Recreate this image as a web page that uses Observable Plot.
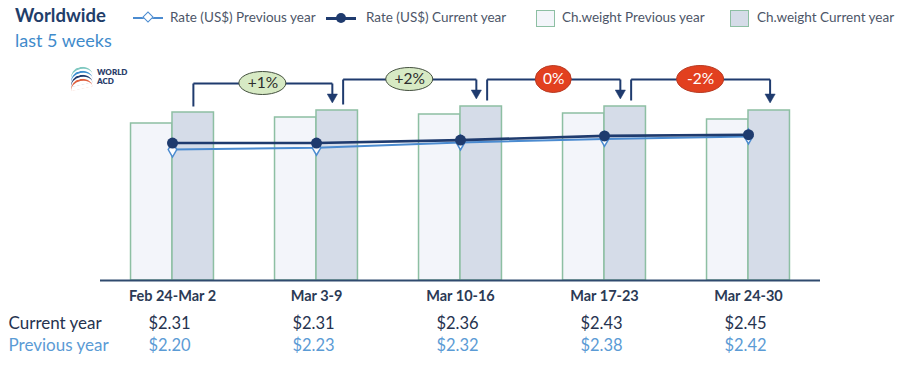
<!DOCTYPE html>
<html>
<head>
<meta charset="utf-8">
<script src="https://cdn.jsdelivr.net/npm/d3@7"></script>
<script src="https://cdn.jsdelivr.net/npm/@observablehq/plot@0.6"></script>
<style>
  html, body { margin: 0; padding: 0; background: #fff; }
  body { width: 900px; height: 368px; overflow: hidden; font-family: Lato, "Open Sans", sans-serif; }
  #header { position: relative; height: 56px; }
  .abs { position: absolute; white-space: nowrap; }
  #title { left: 15px; top: 4px; font-size: 18.5px; font-weight: 700; color: #1f3e6a; }
  #subtitle { left: 15px; top: 29px; font-size: 18px; color: #3f8bcb; }
  .leg { top: 9px; font-size: 13.5px; color: #4d5668; }
  .lineSym { top: 17px; width: 30px; height: 2px; }
  .diam { position: absolute; left: 11px; top: -4px; width: 6px; height: 6px; background: #fff; border: 1.6px solid #4b8bd0; transform: rotate(45deg); }
  .circ { position: absolute; left: 10px; top: -4px; width: 10px; height: 10px; border-radius: 50%; background: #1f3b6e; }
  .box { top: 10px; width: 17px; height: 15px; border: 1.5px solid #8dbfa3; }
  #chart { position: relative; }
  #logo { left: 70px; top: 65px; width: 70px; height: 30px; }
  .stripe { position: absolute; left: 0; width: 22px; height: 8px; border-top: 2.2px solid; border-radius: 50% 50% 0 0 / 100% 100% 0 0; transform: rotate(-12deg); }
  .lt { position: absolute; left: 27px; font-size: 8px; font-weight: 800; color: #2a3d6a; line-height: 8px; }
</style>
</head>
<body>
<div id="header">
  <div class="abs" id="title">Worldwide</div>
  <div class="abs" id="subtitle">last 5 weeks</div>

  <div class="abs lineSym" style="left:133px;background:#4b8bd0;"><div class="diam"></div></div>
  <div class="abs leg" style="left:170px;">Rate (US$) Previous year</div>

  <div class="abs lineSym" style="left:326px;background:#1f3b6e;height:2.5px;"><div class="circ"></div></div>
  <div class="abs leg" style="left:366px;">Rate (US$) Current year</div>

  <div class="abs box" style="left:536px;background:#f3f5fa;"></div>
  <div class="abs leg" style="left:562px;">Ch.weight Previous year</div>

  <div class="abs box" style="left:730px;background:#d5dce8;"></div>
  <div class="abs leg" style="left:757px;">Ch.weight Current year</div>

  <div class="abs" id="logo">
    <div class="stripe" style="top:2px;border-color:#7fc8c0;"></div>
    <div class="stripe" style="top:6px;border-color:#3d8fd0;"></div>
    <div class="stripe" style="top:10px;border-color:#1f3b6e;"></div>
    <div class="stripe" style="top:14px;border-color:#e0603f;"></div>
    <div class="lt" style="top:3px;">WORLD</div>
    <div class="lt" style="top:12px;">ACD</div>
  </div>
</div>
<div id="chart"></div>
<script>
// ---- data ----
const weeks = ["Feb 24-Mar 2", "Mar 3-9", "Mar 10-16", "Mar 17-23", "Mar 24-30"];
const rateCurrent = [2.31, 2.31, 2.36, 2.43, 2.45];
const ratePrevious = [2.20, 2.23, 2.32, 2.38, 2.42];
const weightCurrent = [168, 170, 174, 174, 170];   // chargeable weight (index)
const weightPrevious = [157, 163, 166, 167, 161];
const changeLabels = ["+1%", "+2%", "0%", "-2%"];

// ---- derived table ----
const RATE_K = 59.5; // secondary-axis factor: rate (US$) -> weight units
const fmt = v => "$" + v.toFixed(2);
const data = weeks.map((week, i) => ({
  i, week,
  rc: rateCurrent[i], rp: ratePrevious[i],
  wc: weightCurrent[i], wp: weightPrevious[i]
}));

const BAR = 0.288;
const last = changeLabels.length - 1;
const brackets = changeLabels.map((label, i) => {
  const x0 = i + (i === 0 ? 0.145 : 0.185);
  const x1 = i + 1 + (i === last ? 0.15 : 0.11);
  const level = Math.max(weightCurrent[i], weightCurrent[i + 1]) + 27;
  const up = label.startsWith("+");
  const hw = (label.length * 11 + 14) / 2 / 144;
  return {label, x0, x1, mid: (x0 + x1) / 2, hw, level, up,
          start: weightCurrent[i] + 6, tip: weightCurrent[i + 1] + 8};
});

const navy = "#1f3b6e";
const downTriangle = {
  draw(ctx, size) {
    const y = Math.sqrt(size / (3 * Math.sqrt(3)));
    ctx.moveTo(0, 2 * y);
    ctx.lineTo(-Math.sqrt(3) * y, -y);
    ctx.lineTo(Math.sqrt(3) * y, -y);
    ctx.closePath();
  }
};

const chart = Plot.plot({
  width: 900,
  height: 312,
  marginLeft: 100,
  marginRight: 80,
  marginTop: 24,
  marginBottom: 88,
  x: {type: "linear", domain: [-0.5, 4.5], axis: null},
  y: {domain: [0, 200], axis: null},
  style: {fontFamily: "Lato, 'Open Sans', sans-serif", background: "transparent", overflow: "visible"},
  marks: [
    // chargeable weight bars
    Plot.rectY(data, {x1: d => d.i - BAR, x2: d => d.i, y: "wp", fill: "#f3f5fa", stroke: "#8dbfa3", strokeWidth: 1.5}),
    Plot.rectY(data, {x1: d => d.i, x2: d => d.i + BAR, y: "wc", fill: "#d5dce8", stroke: "#8dbfa3", strokeWidth: 1.5}),
    // baseline
    Plot.ruleY([0], {stroke: "#2f4a6e", strokeWidth: 2}),
    // rates
    Plot.line(data, {x: "i", y: d => d.rp * RATE_K, stroke: "#4b8bd0", strokeWidth: 2}),
    Plot.dot(data, {x: "i", y: d => d.rp * RATE_K, symbol: "diamond", r: 4.5, fill: "#fff", stroke: "#4b8bd0", strokeWidth: 1.5}),
    Plot.line(data, {x: "i", y: d => d.rc * RATE_K, stroke: navy, strokeWidth: 2.6}),
    Plot.dot(data, {x: "i", y: d => d.rc * RATE_K, r: 5.5, fill: navy}),
    // change brackets
    Plot.link(brackets, {x1: "x0", x2: "x0", y1: "start", y2: "level", stroke: navy, strokeWidth: 2}),
    Plot.link(brackets, {x1: "x0", x2: "x1", y1: "level", y2: "level", stroke: navy, strokeWidth: 2}),
    Plot.link(brackets, {x1: "x1", x2: "x1", y1: "level", y2: d => d.tip + 5, stroke: navy, strokeWidth: 2}),
    Plot.dot(brackets, {x: "x1", y: d => d.tip + 5.5, symbol: downTriangle, r: 3.8, fill: navy, stroke: navy, strokeWidth: 0.5}),
    Plot.rect(brackets, {x1: d => d.mid - d.hw, x2: d => d.mid + d.hw, y1: d => d.level - (d.up ? 11.5 : 13.5), y2: d => d.level + (d.up ? 11.5 : 13.5),
      rx: 100, ry: 100, fill: d => d.up ? "#d7eac4" : "#e2401f", stroke: d => d.up ? "#44503f" : "#b83a22", strokeWidth: 1}),
    Plot.text(brackets, {x: "mid", y: "level", text: "label", fill: d => d.up ? "#2d2d2d" : "#ffffff", fontSize: 15.5}),
    // category labels
    Plot.text(data, {x: "i", y: 0, text: "week", dy: 16, fontSize: 14.5, fontWeight: "bold", fill: "#2b3a55"}),
    // value table
    Plot.text(data, {x: "i", y: 0, text: d => fmt(d.rc), dy: 43, dx: -3, fontSize: 16.5, fill: "#26334f"}),
    Plot.text(data, {x: "i", y: 0, text: d => fmt(d.rp), dy: 65, dx: -3, fontSize: 16.5, fill: "#5b9bd5"}),
    Plot.text(["Current year"], {frameAnchor: "bottom-left", lineAnchor: "middle", dx: -92, dy: 43, textAnchor: "start", fontSize: 17, fill: "#26334f"}),
    Plot.text(["Previous year"], {frameAnchor: "bottom-left", lineAnchor: "middle", dx: -92, dy: 65, textAnchor: "start", fontSize: 17, fill: "#5b9bd5"})
  ]
});
document.getElementById("chart").appendChild(chart);
</script>
</body>
</html>
